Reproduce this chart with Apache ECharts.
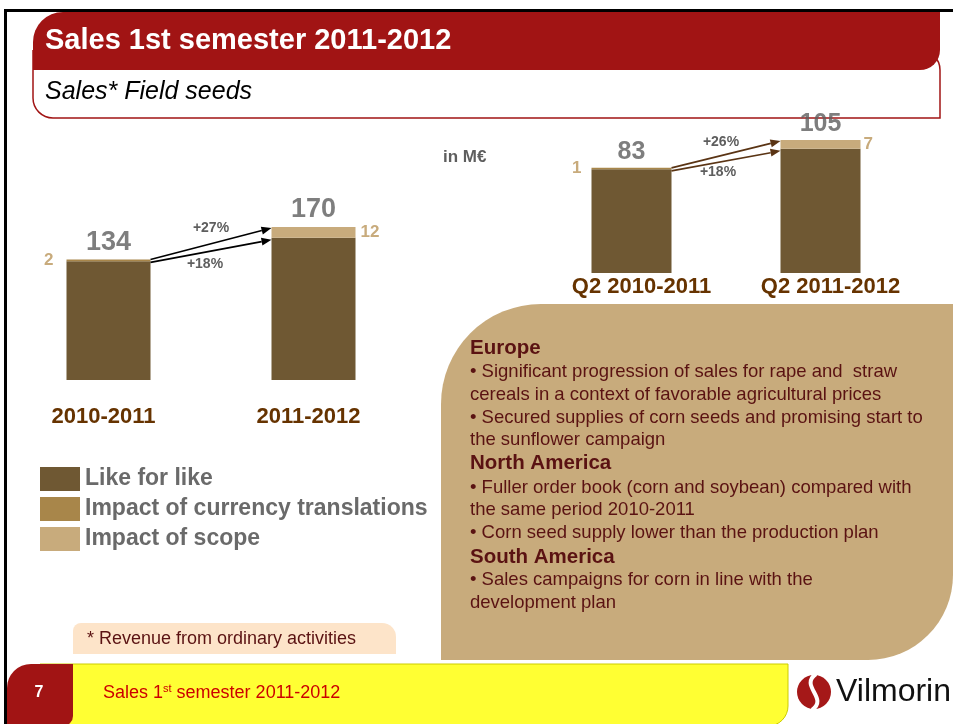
<!DOCTYPE html>
<html><head><meta charset="utf-8">
<script src="https://cdn.jsdelivr.net/npm/echarts@6/dist/echarts.min.js"></script>
<style>html,body{margin:0;padding:0;background:#fff}#c{width:953px;height:724px}</style>
</head><body><div id="c"></div>
<script>
// ---- data ----
const semCategories = ['2010-2011', '2011-2012'];
const semLikeForLike = [132, 158];
const semCurrency = [2, 0];
const semScope = [0, 12];
const semGrowth = ['+27%', '+18%'];

const q2Categories = ['Q2 2010-2011', 'Q2 2011-2012'];
const q2LikeForLike = [82, 98];
const q2Currency = [1, 0];
const q2Scope = [0, 7];
const q2Growth = ['+26%', '+18%'];

const seriesNames = ['Like for like', 'Impact of currency translations', 'Impact of scope'];

const titleText = 'Sales 1st semester 2011-2012';
const subtitleText = 'Sales* Field seeds';
const unitText = 'in M€';
const footnoteText = '* Revenue from ordinary activities';
const pageNumber = '7';
const panelLines = [
  ['h', 'Europe'],
  ['b', '• Significant progression of sales for rape and  straw'],
  ['b', 'cereals in a context of favorable agricultural prices'],
  ['b', '• Secured supplies of corn seeds and promising start to'],
  ['b', 'the sunflower campaign'],
  ['h', 'North America'],
  ['b', '• Fuller order book (corn and soybean) compared with'],
  ['b', 'the same period 2010-2011'],
  ['b', '• Corn seed supply lower than the production plan'],
  ['h', 'South America'],
  ['b', '• Sales campaigns for corn in line with the'],
  ['b', 'development plan']
];

// ---- styles ----
const FONT = "'Liberation Sans', Arial, sans-serif";
const C_LFL = '#6f5833', C_CUR = '#a8864a', C_SCOPE = '#c8ab7c';
const C_RED = '#a11414', C_GRAY = '#5e5e5e', C_BROWN = '#663300', C_PANELTXT = '#5a1212';

const chart = echarts.init(document.getElementById('c'), null, {renderer: 'canvas'});

function totals(a, b, c) { return a.map((v, i) => v + b[i] + c[i]); }
const semTotal = totals(semLikeForLike, semCurrency, semScope);
const q2Total = totals(q2LikeForLike, q2Currency, q2Scope);

function barSeries(gi, stack, width, lfl, cur, scope, sideDist) {
  const common = {type: 'bar', stack: stack, xAxisIndex: gi, yAxisIndex: gi, barWidth: width, animation: false};
  const sideLabel = {fontFamily: FONT, fontWeight: 'bold', fontSize: 17, color: C_SCOPE};
  return [
    Object.assign({}, common, {name: seriesNames[0], data: lfl, itemStyle: {color: C_LFL}}),
    Object.assign({}, common, {name: seriesNames[1], data: cur, itemStyle: {color: C_CUR},
      label: Object.assign({show: true, position: 'left', distance: sideDist[0],
        formatter: p => p.value ? String(p.value) : ''}, sideLabel)}),
    Object.assign({}, common, {name: seriesNames[2], data: scope, itemStyle: {color: C_SCOPE},
      label: Object.assign({show: true, position: 'right', distance: sideDist[1],
        formatter: p => p.value ? String(p.value) : ''}, sideLabel)})
  ];
}
function totalSeries(gi, tot, size) {
  return {type: 'scatter', name: 'Total', xAxisIndex: gi, yAxisIndex: gi, symbolSize: 1,
    itemStyle: {color: 'rgba(0,0,0,0)'}, animation: false, z: 5,
    data: tot.map((v, i) => [i, v]),
    label: {show: true, position: 'top', distance: 3, formatter: p => String(p.value[1]),
      fontFamily: FONT, fontWeight: 'bold', fontSize: size, color: C_GRAY}};
}

const option = {
  animation: false,
  backgroundColor: '#fff',
  legend: {
    data: seriesNames, orient: 'vertical', left: 35, top: 462,
    itemWidth: 40, itemHeight: 24, itemGap: 6, icon: 'rect', selectedMode: false,
    textStyle: {fontFamily: FONT, fontWeight: 'bold', fontSize: 23, color: '#6a6a6a'}
  },
  grid: [
    {left: 6, width: 410, top: 200, height: 180},
    {left: 537, width: 378, top: 121, height: 152}
  ],
  xAxis: [
    {type: 'category', gridIndex: 0, data: semCategories, axisLine: {show: false}, axisTick: {show: false},
      axisLabel: {margin: 26, fontFamily: FONT, fontWeight: 'bold', fontSize: 22, color: C_BROWN, padding: [0, 10, 0, 0]}},
    {type: 'category', gridIndex: 1, data: q2Categories, axisLine: {show: false}, axisTick: {show: false},
      axisLabel: {margin: 3, fontFamily: FONT, fontWeight: 'bold', fontSize: 22, color: C_BROWN, padding: [0, 0, 0, 20]}}
  ],
  yAxis: [
    {type: 'value', gridIndex: 0, min: 0, max: 200, show: false, splitLine: {show: false}},
    {type: 'value', gridIndex: 1, min: 0, max: 120, show: false, splitLine: {show: false}}
  ],
  series: [].concat(
    barSeries(0, 'sem', 84, semLikeForLike, semCurrency, semScope, [13, 5]),
    barSeries(1, 'q2', 80, q2LikeForLike, q2Currency, q2Scope, [10, 3]),
    [totalSeries(0, semTotal, 27), totalSeries(1, q2Total, 25)]
  )
};
chart.setOption(option);

// ---- decorations & annotations ----
const g = [];
function txt(x, y, text, font, fill, align) {
  g.push({type: 'text', x: x, y: y, silent: true, z: 20,
    style: {text: text, font: font, fill: fill, textAlign: align || 'left', textVerticalAlign: 'middle'}});
}
// frame
g.push({type: 'rect', shape: {x: 4, y: 9, width: 949, height: 3}, style: {fill: '#000'}, z: 30});
g.push({type: 'rect', shape: {x: 4, y: 9, width: 3, height: 715}, style: {fill: '#000'}, z: 30});
// subtitle box then red band
g.push({type: 'rect', shape: {x: 33, y: 50, width: 907, height: 68, r: [0, 20, 0, 20]},
  style: {fill: '#fff', stroke: C_RED, lineWidth: 1.5}, z: 1});
g.push({type: 'rect', shape: {x: 33, y: 12, width: 907, height: 58, r: [30, 0, 20, 0]},
  style: {fill: C_RED}, z: 2});
txt(45, 41, titleText, 'bold 29px ' + FONT, '#fff');
txt(45, 92, subtitleText, 'italic 25px ' + FONT, '#000');
// unit
txt(443, 157, unitText, 'bold 17px ' + FONT, C_GRAY);
// panel
g.push({type: 'rect', shape: {x: 441, y: 304, width: 512, height: 356, r: [100, 0, 85, 0]},
  style: {fill: C_SCOPE}, z: 1});
const panelY = [348, 372, 395, 418, 440, 463, 488, 510, 533, 557, 580, 603];
panelLines.forEach((l, i) => {
  txt(470, panelY[i], l[1], (l[0] === 'h' ? 'bold 20.5px ' : '18.5px ') + FONT, C_PANELTXT);
});
// footnote
g.push({type: 'rect', shape: {x: 73, y: 623, width: 323, height: 31, r: [8, 14, 0, 0]},
  style: {fill: '#fde4c9'}, z: 1});
txt(87, 639, footnoteText, '18px ' + FONT, C_PANELTXT);
// footer
g.push({type: 'rect', shape: {x: 40, y: 664, width: 748, height: 62, r: [0, 0, 20, 0]},
  style: {fill: '#ffff33', stroke: '#cccc00', lineWidth: 1}, z: 1});
g.push({type: 'rect', shape: {x: 7, y: 664, width: 66, height: 62, r: [24, 0, 10, 0]},
  style: {fill: C_RED}, z: 2});
txt(39, 693, pageNumber, 'bold 16px ' + FONT, '#fff', 'center');
g.push({type: 'text', x: 103, y: 693, z: 20, silent: true,
  style: {rich: {a: {fontSize: 18, fontFamily: FONT, fill: '#cc0000', color: '#cc0000'},
                 s: {fontSize: 11, fontFamily: FONT, fill: '#cc0000', color: '#cc0000', padding: [0, 0, 8, 0]}},
          text: '{a|Sales 1}{s|st}{a| semester 2011-2012}', textVerticalAlign: 'middle'}});
// logo
g.push({type: 'circle', shape: {cx: 814, cy: 692, r: 17}, style: {fill: '#a51818'}, z: 20});
g.push({type: 'bezierCurve', shape: {x1: 816, y1: 674, x2: 812, y2: 710, cpx1: 799, cpy1: 686, cpx2: 829, cpy2: 698},
  style: {stroke: '#fff', lineWidth: 4, fill: null}, z: 21});
txt(836, 692, 'Vilmorin', '32px ' + FONT, '#111');

// arrows computed from the chart scales
function arrow(x1, y1, x2, y2, color) {
  const a = Math.atan2(y2 - y1, x2 - x1), L = 10, W = 4;
  const bx = x2 - L * Math.cos(a), by = y2 - L * Math.sin(a);
  g.push({type: 'line', shape: {x1: x1, y1: y1, x2: bx, y2: by}, style: {stroke: color, lineWidth: 1.6}, z: 25});
  g.push({type: 'polygon', shape: {points: [[x2, y2], [bx - W * Math.sin(a), by + W * Math.cos(a)], [bx + W * Math.sin(a), by - W * Math.cos(a)]]},
    style: {fill: color}, z: 25});
}
function growthArrows(gi, halfW, lfl, tot, labels, color, offs) {
  const p0 = chart.convertToPixel({gridIndex: gi}, [0, tot[0]]);
  const p1 = chart.convertToPixel({gridIndex: gi}, [1, tot[1]]);
  const p1l = chart.convertToPixel({gridIndex: gi}, [1, lfl[1]]);
  const xa = p0[0] + halfW, xb = p1[0] - halfW;
  const up = [xa, p0[1], xb, p1[1] + 1], lo = [xa, p0[1] + 3, xb, p1l[1] + 2];
  arrow(up[0], up[1], up[2], up[3], color);
  arrow(lo[0], lo[1], lo[2], lo[3], color);
  const mx = (xa + xb) / 2;
  txt(mx + offs[0], (up[1] + up[3]) / 2 - offs[1], labels[0], 'bold 14px ' + FONT, C_GRAY, 'center');
  txt(mx + offs[2], (lo[1] + lo[3]) / 2 + offs[3], labels[1], 'bold 14px ' + FONT, C_GRAY, 'center');
}
growthArrows(0, 42, semLikeForLike, semTotal, semGrowth, '#000', [0, 16, -6, 13]);
growthArrows(1, 40, q2LikeForLike, q2Total, q2Growth, '#5a3414', [-5, 12, -8, 11]);

chart.setOption({graphic: g});
</script></body></html>
